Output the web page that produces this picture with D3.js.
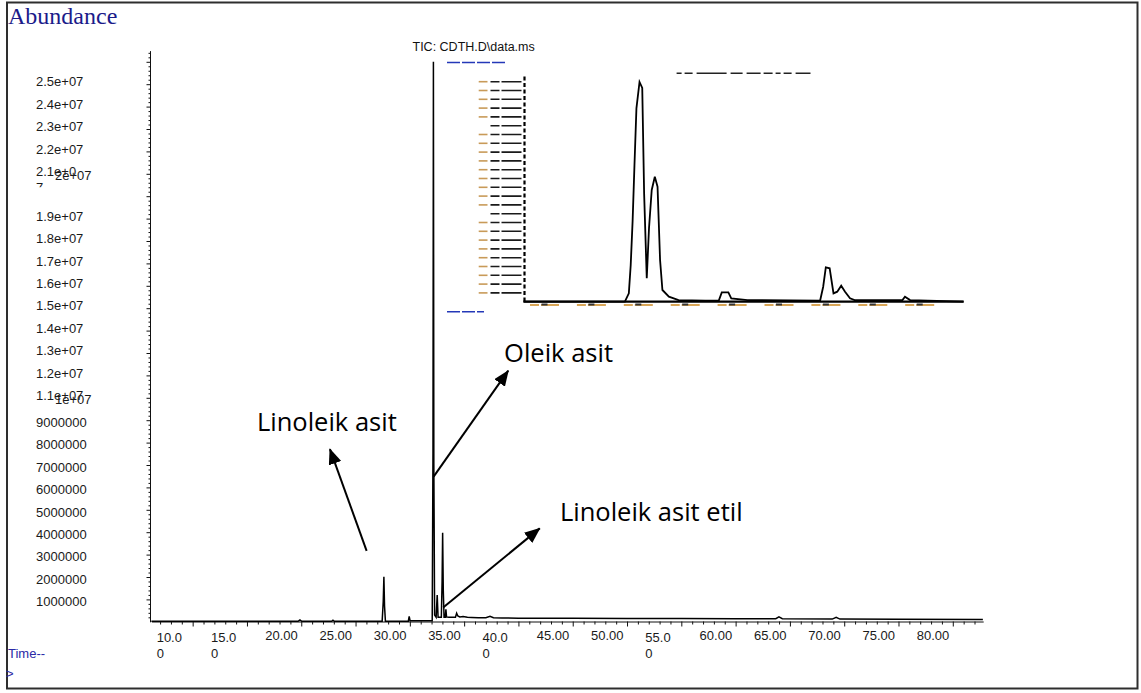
<!DOCTYPE html>
<html>
<head>
<meta charset="utf-8">
<script src="https://cdn.jsdelivr.net/npm/d3@7"></script>
<style>
  html, body { margin: 0; padding: 0; background: #fff; }
  svg { display: block; }
</style>
</head>
<body>
<svg id="chart" width="1141" height="693"></svg>
<script>
// ---- Total ion chromatogram (TIC) ----
const retentionTime = [6.2, 12, 19.7, 19.88, 20.05, 22.8, 22.92, 23.05, 27.45, 27.55, 27.61, 27.67, 27.75,
  29.86, 29.94, 30.02, 32.06, 32.13, 32.17, 32.21, 32.28, 32.42, 32.52, 32.6, 32.9, 32.97, 33.02, 33.08,
  33.15, 33.26, 33.32, 33.38, 33.6, 34.2, 34.31, 34.42, 34.6, 34.9, 35.3, 35.7, 36.3, 37.0, 37.38, 37.7,
  38.5, 40, 45, 50, 55, 60, 63.7, 63.99, 64.3, 68.9, 69.26, 69.6, 75, 82.77];
const abundance = [0.02e6, 0.02e6, 0.02e6, 0.08e6, 0.02e6, 0.02e6, 0.07e6, 0.02e6, 0.02e6, 0.9e6, 2.01e6, 0.7e6, 0.03e6,
  0.03e6, 0.24e6, 0.05e6, 0.05e6, 7.5e6, 25.0e6, 7.0e6, 0.3e6, 0.2e6, 1.2e6, 0.2e6, 0.2e6, 1.8e6, 3.98e6, 1.4e6,
  0.2e6, 0.2e6, 0.56e6, 0.22e6, 0.2e6, 0.2e6, 0.38e6, 0.26e6, 0.22e6, 0.24e6, 0.2e6, 0.19e6, 0.18e6, 0.18e6, 0.25e6, 0.18e6,
  0.17e6, 0.16e6, 0.16e6, 0.15e6, 0.15e6, 0.14e6, 0.14e6, 0.22e6, 0.14e6, 0.12e6, 0.2e6, 0.12e6, 0.11e6, 0.1e6];

// Axis ticks and the labels printed next to them
const xTickValues = [10, 15, 20, 25, 30, 35, 40, 45, 50, 55, 60, 65, 70, 75, 80];
const xWrappedTicks = [10, 15, 40, 55];
const yTickValues = [1e6, 2e6, 3e6, 4e6, 5e6, 6e6, 7e6, 8e6, 9e6, 10e6, 11e6, 12e6, 13e6, 14e6, 15e6, 16e6,
  17e6, 18e6, 19e6, 20e6, 21e6, 22e6, 23e6, 24e6];
const yTickLabels = ["1000000", "2000000", "3000000", "4000000", "5000000", "6000000", "7000000", "8000000",
  "9000000", "1.1e+07", "1.2e+07", "1.3e+07", "1.4e+07", "1.5e+07", "1.6e+07", "1.7e+07", "1.8e+07", "1.9e+07",
  "", "2.1e+07", "2.2e+07", "2.3e+07", "2.4e+07", "2.5e+07"];
const yWrappedLabels = ["2.1e+07"];
const yOverlayValues = [10e6, 20e6];
const yOverlayLabels = ["1e+07", "2e+07"];

// ---- Expanded view of the 32-37 min region ----
const insetTime = [32.276, 33.357, 33.399, 33.419, 33.439, 33.459, 33.48, 33.513, 33.542, 33.562, 33.59, 33.614,
  33.643, 33.676, 33.705, 33.732, 33.757, 33.826, 33.929, 34.214, 34.357, 34.39, 34.46, 34.491, 34.663, 35.438,
  35.471, 35.499, 35.54, 35.581, 35.621, 35.663, 35.704, 35.757, 35.806, 36.316, 36.343, 36.397, 36.968];
const insetAbundance = [0, 0, 0.95, 4.17, 9.1, 15.5, 21.98, 24.97, 24.3, 12.3, 2.66, 8.35, 12.7, 14.2, 13.07,
  4.74, 1.33, 0.57, 0.19, 0.11, 0.11, 1.06, 1.06, 0.38, 0.19, 0.11, 1.7, 3.9, 3.8, 0.95, 1.14, 1.82, 1.14, 0.38,
  0.19, 0.19, 0.57, 0.19, 0];
const insetTimeTicks = [32.5, 33, 33.5, 34, 34.5, 35, 35.5, 36, 36.5];
const insetLevels = [1, 2, 3, 4, 5, 6, 7, 8, 9, 10, 11, 12, 13, 14, 15, 16, 17, 18, 19, 20, 21, 22, 23, 24, 25];

// ---- Peak annotations (arrow from tail to head, label anchor) ----
const annotationNames = ["Linoleik asit", "Oleik asit", "Linoleik asit etil"];
const arrowTail = [[26.02, 3.17e6], [32.19, 6.48e6], [33.07, 0.64e6]];
const arrowHead = [[22.64, 7.71e6], [39.06, 11.21e6], [41.96, 4.17e6]];
const labelAnchor = [[15.92, 8.54e6], [38.68, 11.58e6], [43.82, 4.52e6]];

const svg = d3.select("#chart");
const sans = "'Liberation Sans', Arial, sans-serif";

svg.append("rect").attr("width", 1141).attr("height", 693).attr("fill", "#fff");

// Page frame
svg.append("rect")
  .attr("x", 7).attr("y", 2.5).attr("width", 1130.5).attr("height", 686)
  .attr("fill", "none").attr("stroke", "#2e2e2e").attr("stroke-width", 2);

// Scales
const x = d3.scaleLinear().domain([6.2, 82.8]).range([151.4, 983.2]);
const y = d3.scaleLinear().domain([0, 25.5e6]).range([621.8, 50.6]);

// Y axis: major ticks every 1e6, minor every 2e5
svg.append("g").attr("transform", "translate(150,0)")
  .call(d3.axisLeft(y).tickValues(d3.range(1, 26).map(k => k * 1e6))
    .tickSize(3.5).tickSizeOuter(0).tickFormat(""));
svg.append("g").attr("transform", "translate(150,0)")
  .call(d3.axisLeft(y).tickValues(d3.range(1, 128).map(k => k * 2e5).filter(v => v % 1e6 !== 0))
    .tickSize(1.5).tickSizeOuter(0).tickFormat(""))
  .call(g => g.select(".domain").remove());

// X axis: major ticks every 5 min, minor every minute
svg.append("g").attr("transform", "translate(0,621.5)")
  .call(d3.axisBottom(x).tickValues(xTickValues).tickSize(5).tickSizeOuter(0).tickFormat(""));
svg.append("g").attr("transform", "translate(0,621.5)")
  .call(d3.axisBottom(x).tickValues(d3.range(7, 83).filter(v => v % 5 !== 0))
    .tickSize(3).tickSizeOuter(0).tickFormat(""))
  .call(g => g.select(".domain").remove());
svg.selectAll(".domain, .tick line").attr("stroke", "#111");

// Y tick labels
const yLab = svg.append("g").attr("font-family", sans).attr("font-size", 13).attr("fill", "#1a1a1a");
yTickValues.forEach((v, i) => {
  const txt = yTickLabels[i];
  if (!txt) return;
  const dy = txt.includes("e+") ? 2.2 : 6.7;
  if (yWrappedLabels.includes(txt)) {
    yLab.append("text").attr("x", 36).attr("y", y(v) + dy).text(txt.slice(0, -1));
    const clipId = "wrapClip" + i;
    svg.append("clipPath").attr("id", clipId)
      .append("rect").attr("x", 30).attr("y", y(v) + 8).attr("width", 20).attr("height", 5.5);
    yLab.append("text").attr("x", 36).attr("y", y(v) + dy + 16)
      .attr("clip-path", `url(#${clipId})`).text(txt.slice(-1));
  } else {
    yLab.append("text").attr("x", 36).attr("y", y(v) + dy).text(txt);
  }
});
yOverlayValues.forEach((v, i) => {
  yLab.append("text").attr("x", 55).attr("y", y(v) + 6.5).text(yOverlayLabels[i]);
});

// X tick labels (left-aligned ahead of each tick, long ones wrap)
const xLab = svg.append("g").attr("font-family", sans).attr("font-size", 13).attr("fill", "#1a1a1a");
xTickValues.forEach(v => {
  const txt = v.toFixed(2);
  const left = x(v) - 36;
  if (xWrappedTicks.includes(v)) {
    xLab.append("text").attr("x", left).attr("y", 642).text(txt.slice(0, -1));
    xLab.append("text").attr("x", left).attr("y", 658).text(txt.slice(-1));
  } else {
    xLab.append("text").attr("x", left).attr("y", 639.7).text(txt);
  }
});

// Axis captions
svg.append("text").attr("x", 8).attr("y", 24)
  .attr("font-family", "'Liberation Serif', 'Times New Roman', serif").attr("font-size", 24)
  .attr("fill", "#1b1b8a").text("Abundance");
svg.append("text").attr("x", 8).attr("y", 658).attr("font-family", sans).attr("font-size", 13)
  .attr("fill", "#2a2aa6").text("Time--");
svg.append("text").attr("x", 6).attr("y", 677.5).attr("font-family", sans).attr("font-size", 13)
  .attr("fill", "#2a2aa6").text(">");
svg.append("text").attr("x", 412.5).attr("y", 51).attr("font-family", sans).attr("font-size", 12.5)
  .attr("fill", "#111").text("TIC: CDTH.D\\data.ms");

// Chromatogram trace
const tic = retentionTime.map((t, i) => [t, abundance[i]]);
svg.append("path").datum(tic)
  .attr("fill", "none").attr("stroke", "#000").attr("stroke-width", 1.5).attr("stroke-linejoin", "miter")
  .attr("d", d3.line().x(d => x(d[0])).y(d => y(d[1])));

// ---- Expanded view ----
const ix = d3.scaleLinear().domain([32.276, 36.968]).range([523.5, 963.6]);
const iy = d3.scaleLinear().domain([0, 25]).range([301.7, 81.7]);
const inset = svg.append("g");

// blue level markers
inset.append("line").attr("x1", 447).attr("x2", 505).attr("y1", 62.5).attr("y2", 62.5)
  .attr("stroke", "#2438b8").attr("stroke-width", 1.6).attr("stroke-dasharray", "13,2");
inset.append("line").attr("x1", 447).attr("x2", 484).attr("y1", 311.7).attr("y2", 311.7)
  .attr("stroke", "#2438b8").attr("stroke-width", 1.6).attr("stroke-dasharray", "13,2");

// dashed header
inset.append("line").attr("x1", 676.6).attr("x2", 810.5).attr("y1", 73.3).attr("y2", 73.3)
  .attr("stroke", "#222").attr("stroke-width", 1.6).attr("stroke-dasharray", "5,3,8,4,30,4,12,4,14,3,9,3");

// level rows on the left
const x0 = ix.range()[0];
insetLevels.forEach(v => {
  if (v % 10 !== 0) {
    inset.append("line").attr("x1", x0 - 44.8).attr("x2", x0 - 36).attr("y1", iy(v)).attr("y2", iy(v))
      .attr("stroke", "#c89a58").attr("stroke-width", 1.6);
  }
  inset.append("line").attr("x1", x0 - 33).attr("x2", x0 - 2).attr("y1", iy(v)).attr("y2", iy(v))
    .attr("stroke", "#1a1a1a").attr("stroke-width", 1.6).attr("stroke-dasharray", "9,2,20");
});
inset.append("line").attr("x1", x0 + 1).attr("x2", x0 + 1).attr("y1", iy(25.6)).attr("y2", iy(0))
  .attr("stroke", "#000").attr("stroke-width", 2.2).attr("stroke-dasharray", "4,2.5");

// time ticks below the baseline
insetTimeTicks.forEach(t => {
  inset.append("line").attr("x1", ix(t) - 14.5).attr("x2", ix(t) + 14.5).attr("y1", 305).attr("y2", 305)
    .attr("stroke", "#d9a657").attr("stroke-width", 1.8).attr("stroke-dasharray", "9,2,18");
  inset.append("line").attr("x1", ix(t) - 3).attr("x2", ix(t) + 3).attr("y1", 304.5).attr("y2", 304.5)
    .attr("stroke", "#333").attr("stroke-width", 2);
});

// baseline and trace
inset.append("line").attr("x1", ix.range()[0]).attr("x2", ix.range()[1]).attr("y1", iy(0)).attr("y2", iy(0))
  .attr("stroke", "#000").attr("stroke-width", 2.2);
inset.append("path").datum(insetTime.map((t, i) => [t, insetAbundance[i]]))
  .attr("fill", "none").attr("stroke", "#000").attr("stroke-width", 1.8)
  .attr("d", d3.line().x(d => ix(d[0])).y(d => iy(d[1])));

// ---- Annotations ----
svg.append("defs").append("marker")
  .attr("id", "arrowHead").attr("viewBox", "0 0 16 13")
  .attr("refX", 15).attr("refY", 6.5).attr("markerWidth", 16).attr("markerHeight", 13)
  .attr("markerUnits", "userSpaceOnUse").attr("orient", "auto")
  .append("path").attr("d", "M0,0 L16,6.5 L0,13 Z").attr("fill", "#000");

annotationNames.forEach((name, i) => {
  svg.append("line")
    .attr("x1", x(arrowTail[i][0])).attr("y1", y(arrowTail[i][1]))
    .attr("x2", x(arrowHead[i][0])).attr("y2", y(arrowHead[i][1]))
    .attr("stroke", "#000").attr("stroke-width", 2).attr("marker-end", "url(#arrowHead)");
  svg.append("text")
    .attr("x", x(labelAnchor[i][0])).attr("y", y(labelAnchor[i][1]))
    .attr("font-family", "'Open Sans', 'Noto Sans', sans-serif").attr("font-size", 25.5)
    .attr("fill", "#000").text(name);
});
</script>
</body>
</html>
